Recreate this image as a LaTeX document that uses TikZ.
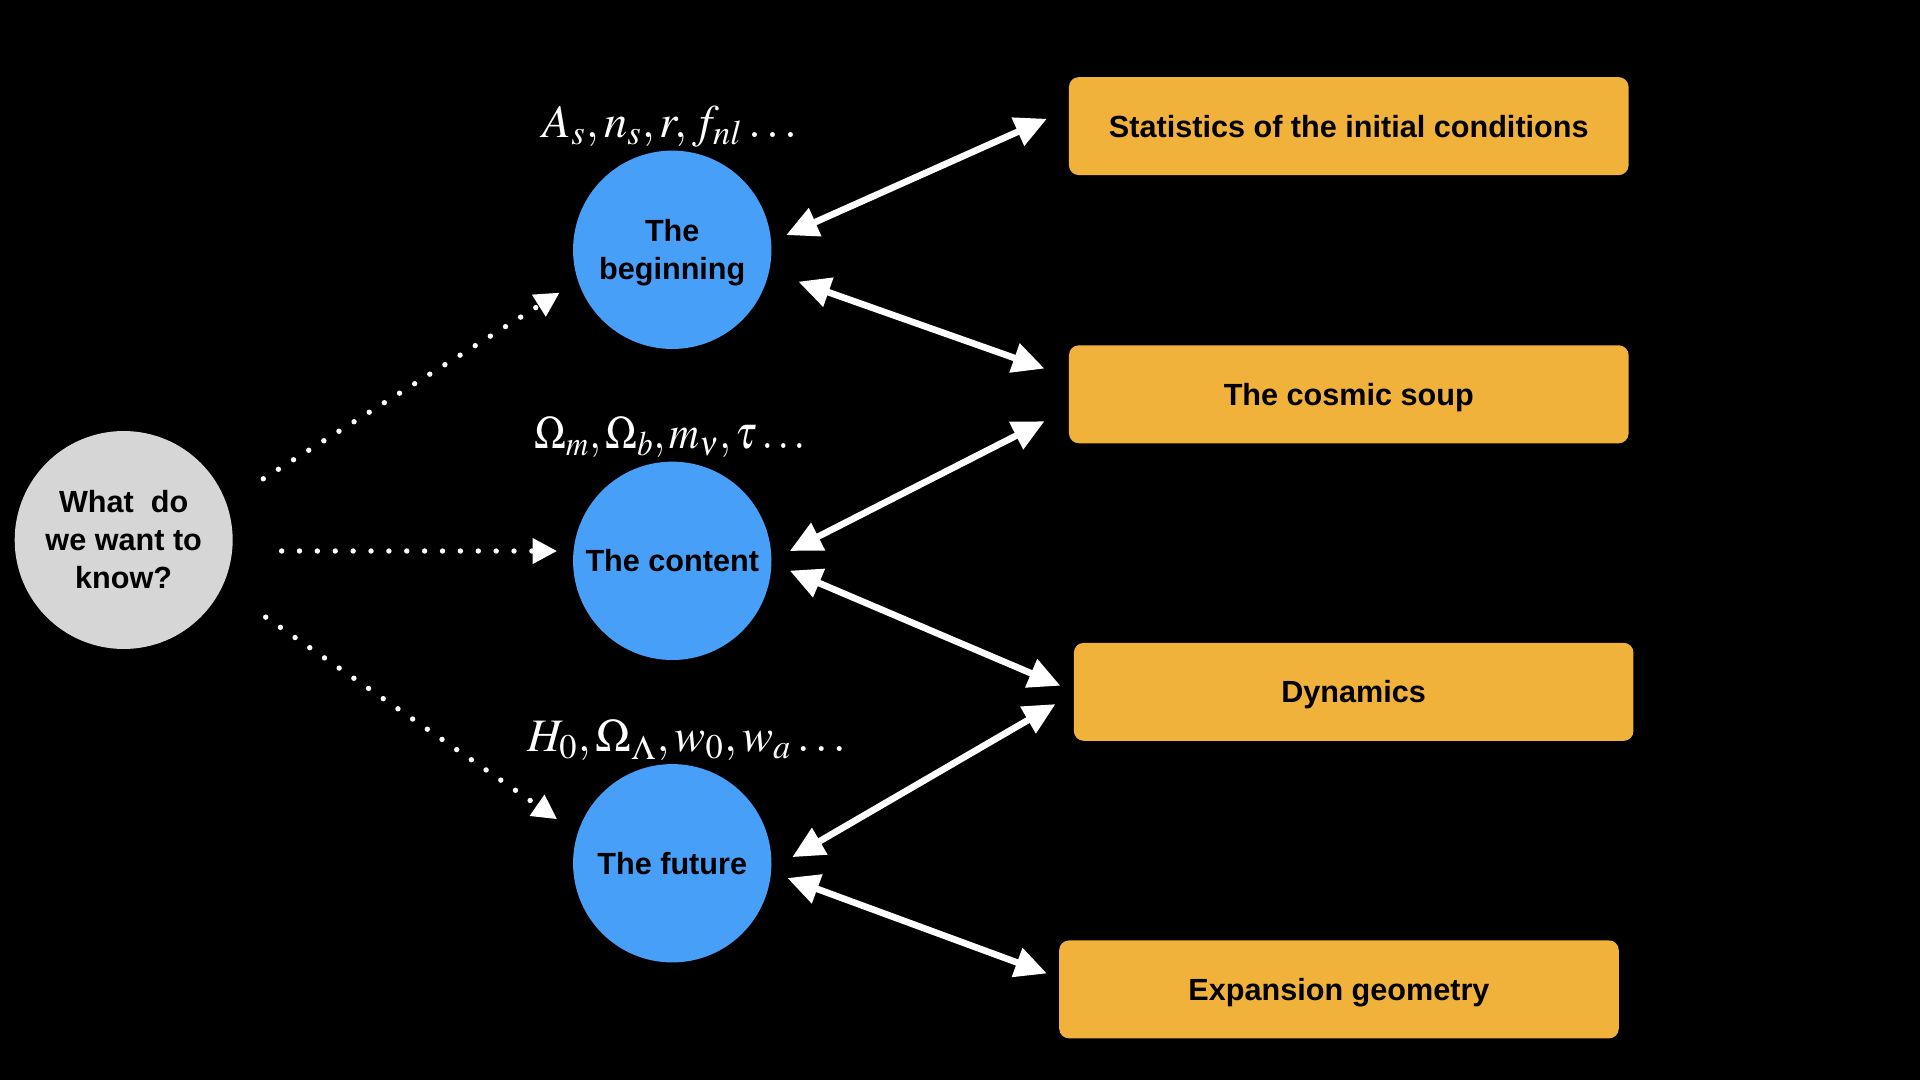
\documentclass[tikz,border=0pt]{standalone}
\usepackage{mathptmx}
\usepackage[no-math]{fontspec}
\newfontfamily\lsans{Liberation Sans}
\usetikzlibrary{arrows.meta}
\definecolor{qgray}{HTML}{D6D6D6}
\definecolor{qblue}{HTML}{479FF8}
\definecolor{qorange}{HTML}{F1B23C}
\tikzset{
  txt/.style={font=\lsans\bfseries\fontsize{12.5}{15.5}\selectfont, text=black, align=center},
  qcirc/.style={circle, fill=qgray, minimum size=89pt, inner sep=0pt, outer sep=0pt, txt},
  topic/.style={circle, fill=qblue, minimum size=81pt, inner sep=0pt, outer sep=0pt, txt, text depth=0pt},
  obox/.style={rectangle, rounded corners=4pt, fill=qorange, minimum width=228.5pt, minimum height=40pt, inner sep=0pt, outer sep=0pt, txt, text height=9pt, text depth=0pt},
  mlabel/.style={anchor=base west, inner sep=0pt, text=white, font=\fontsize{19}{22}\selectfont},
  dbl/.style={draw=white, line width=2.7pt, {Triangle[length=13pt,width=12pt]}-{Triangle[length=13pt,width=12pt]}},
  dotarr/.style={draw=white, line width=2.2pt, line cap=round, dash pattern=on 0pt off 7.3pt, -{Triangle[length=10pt,width=10pt]}}
}
\begin{document}
\begin{tikzpicture}[x=0.5pt,y=-0.5pt]
\fill[black] (0,0) rectangle (1568,882);
\useasboundingbox (0,0) rectangle (1568,882);

\node[qcirc] (q) at (101,441) {What\ \ do\\we want to\\know?};
\node[topic] (beg) at (549,204) {The\\beginning};
\node[topic] (con) at (549,458) {The content};
\node[topic] (fut) at (549,705) {The future};

\node[obox] (stat) at (1101.5,103) {Statistics of the initial conditions};
\node[obox] (soup) at (1101.5,322) {The cosmic soup};
\node[obox] (dyn) at (1105.5,565) {Dynamics};
\node[obox] (exp) at (1093.5,808) {Expansion geometry};

\node[mlabel] (l1) at (443,112) {$A_s, n_s, r, f_{nl} \dots$};
\node[mlabel] (l2) at (436,366) {\scalebox{0.89}[1]{$\Omega_m, \Omega_b, m_\nu, \tau \dots$}};
\node[mlabel] (l3) at (430,614) {$H_0, \Omega_\Lambda, w_0, w_a \dots$};

\draw[dbl] ([shift={(12,-12)}]beg.east) -- ([shift={(-18,-6)}]stat.west);
\draw[dbl] ([shift={(22,26)}]beg.east) -- ([shift={(-20,-21)}]soup.west);
\draw[dbl] ([shift={(15,-8)}]con.east) -- ([shift={(-20,22)}]soup.west);
\draw[dbl] ([shift={(15,8)}]con.east) -- ([shift={(-11,-5)}]dyn.west);
\draw[dbl] ([shift={(17,-5)}]fut.east) -- ([shift={(-15,10)}]dyn.west);
\draw[dbl] ([shift={(13,12)}]fut.east) -- ([shift={(-10,-13)}]exp.west);

\draw[dotarr] ([shift={(25,-50)}]q.east) -- ([shift={(-11,35)}]beg.west);
\draw[dotarr] ([shift={(40,9)}]q.east) -- ([shift={(-13,-8)}]con.west);
\draw[dotarr] ([shift={(27,63)}]q.east) -- ([shift={(-13,-36)}]fut.west);
\end{tikzpicture}
\end{document}
